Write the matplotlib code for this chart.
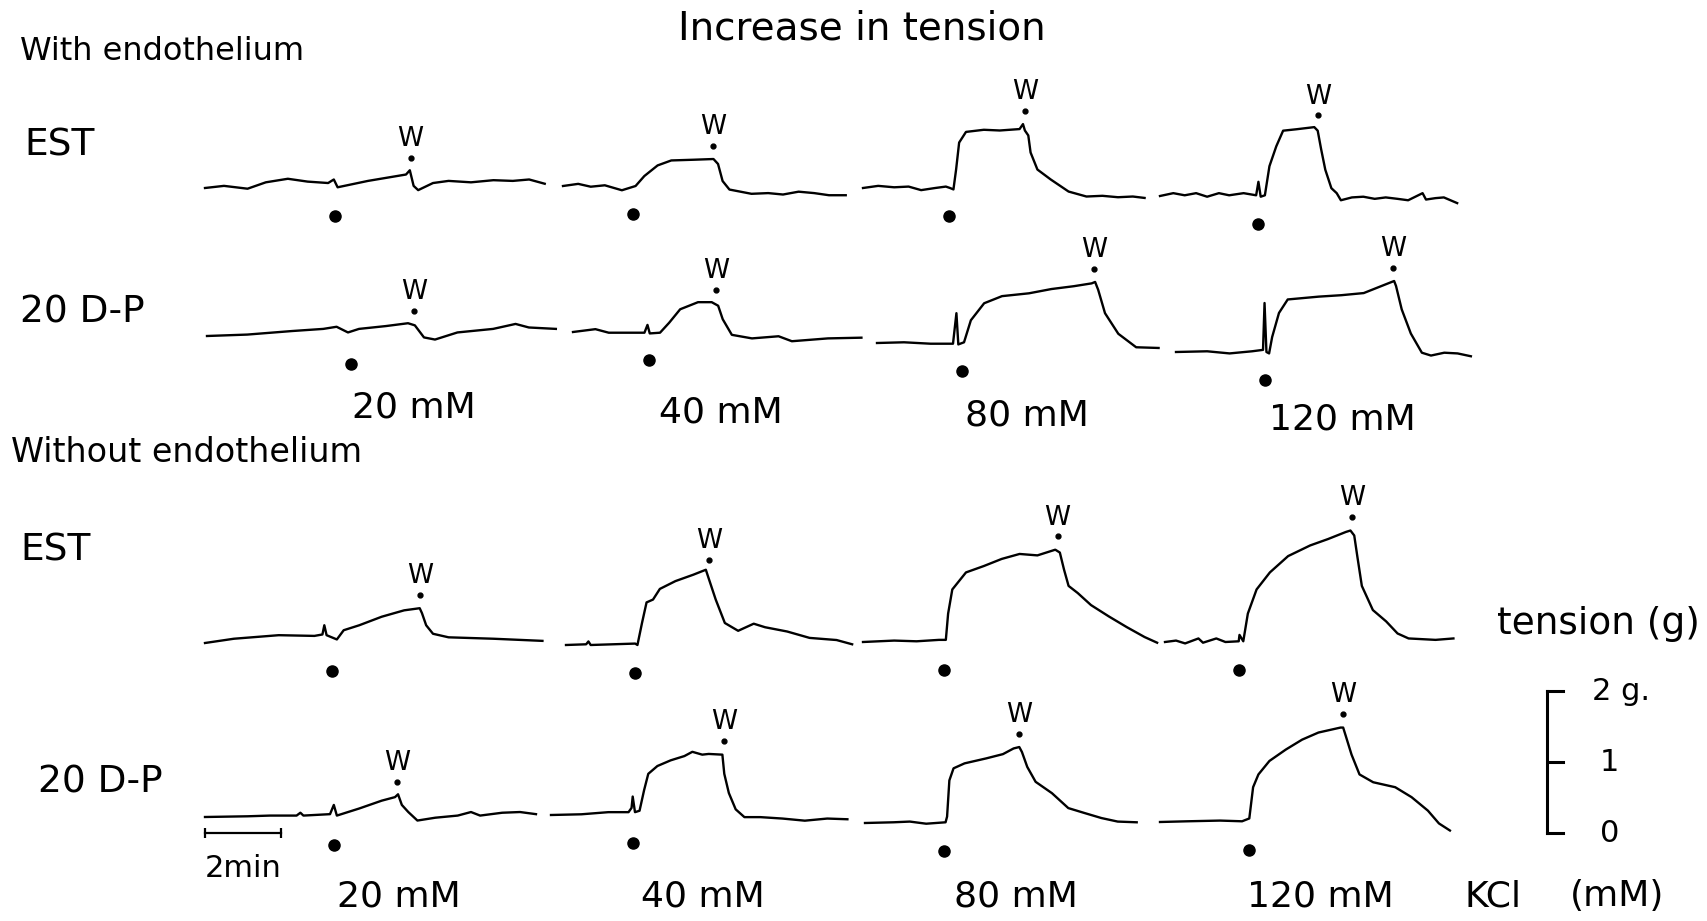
import numpy as np
import matplotlib.pyplot as plt

plt.rcParams['font.family'] = ['DejaVu Sans']

# KCl concentrations of the four records in each row
conc_labels = ['20 mM', '40 mM', '80 mM', '120 mM']

# each record: time from start of trace (min), tension above resting level (g)
# --- with endothelium, EST
e_est_20_t = [0, 0.5, 1.12, 1.6, 2.18, 2.7, 3.24, 3.39, 3.49, 4.29, 5.29, 5.39, 5.49, 5.61, 6.0, 6.41, 7.0,
              7.59, 8.1, 8.53, 8.94]
e_est_20_g = [0, 0.03, -0.01, 0.08, 0.13, 0.09, 0.07, 0.12, 0.01, 0.1, 0.19, 0.25, 0.03, -0.03, 0.07, 0.1,
              0.08, 0.11, 0.1, 0.12, 0.06]
e_est_40_t = [0, 0.4, 0.73, 1.1, 1.55, 1.91, 2.14, 2.49, 2.85, 3.44, 3.96, 4.08, 4.2, 4.38, 4.96, 5.4, 5.79,
              6.2, 6.61, 7.0, 7.44]
e_est_40_g = [0, 0.03, -0.01, 0.01, -0.06, 0, 0.14, 0.29, 0.36, 0.37, 0.38, 0.31, 0.07, -0.05, -0.11, -0.1,
              -0.12, -0.08, -0.1, -0.13, -0.13]
e_est_80_t = [0, 0.4, 0.82, 1.2, 1.53, 1.9, 2.18, 2.29, 2.38, 2.45, 2.53, 2.71, 3.18, 3.6, 4.12, 4.21, 4.26,
              4.35, 4.41, 4.59, 4.94, 5.41, 5.88, 6.3, 6.71, 7.1, 7.41]
e_est_80_g = [0, 0.03, 0.01, 0.02, -0.03, 0.0, 0.02, 0, -0.02, 0.26, 0.64, 0.79, 0.82, 0.81, 0.83, 0.9, 0.81,
              0.74, 0.5, 0.26, 0.12, -0.05, -0.12, -0.11, -0.13, -0.12, -0.14]
e_est_120_t = [0, 0.35, 0.65, 0.95, 1.24, 1.55, 1.82, 2.2, 2.53, 2.59, 2.65, 2.76, 2.88, 3.06, 3.24, 3.59,
               4.06, 4.15, 4.24, 4.35, 4.51, 4.65, 4.76, 5.05, 5.35, 5.65, 5.94, 6.25, 6.53, 6.91, 7.0,
               7.25, 7.47, 7.82]
e_est_120_g = [0, 0.04, 0.01, 0.04, -0.01, 0.04, 0.01, 0.04, 0.01, 0.2, -0.01, 0.01, 0.42, 0.7, 0.92, 0.94,
               0.97, 0.92, 0.66, 0.37, 0.11, 0.04, -0.06, -0.02, -0.01, -0.04, -0.02, -0.04, -0.06, 0.04,
               -0.05, -0.03, -0.02, -0.1]
e_est_add = [3.41, 1.85, 2.26, 2.59]
e_est_wash = [5.41, 3.94, 4.26, 4.15]

# --- with endothelium, 20 D-P
e_dp_20_t = [0, 1.06, 2.24, 3.06, 3.41, 3.71, 4.0, 4.71, 5.29, 5.47, 5.71, 6.0, 6.59, 7.53, 8.12, 8.47, 9.18]
e_dp_20_g = [0, 0.02, 0.07, 0.1, 0.13, 0.05, 0.1, 0.14, 0.18, 0.15, -0.02, -0.05, 0.05, 0.1, 0.17, 0.12, 0.1]
e_dp_40_t = [0, 0.59, 0.94, 1.88, 1.96, 2.02, 2.29, 2.53, 2.82, 3.29, 3.65, 3.82, 3.94, 4.18, 4.71, 5.41,
             5.76, 6.71, 7.59]
e_dp_40_g = [0, 0.04, -0.01, -0.01, 0.1, -0.02, -0.01, 0.13, 0.32, 0.42, 0.42, 0.37, 0.18, -0.04, -0.09, -0.06,
             -0.13, -0.09, -0.08]
e_dp_80_t = [0, 0.71, 1.41, 2.0, 2.09, 2.14, 2.29, 2.47, 2.82, 3.29, 4.0, 4.59, 5.18, 5.65, 5.74, 5.82,
             6.0, 6.35, 6.82, 7.41]
e_dp_80_g = [0, 0.01, -0.01, -0.01, 0.42, -0.02, 0.01, 0.32, 0.56, 0.66, 0.7, 0.76, 0.8, 0.84, 0.86, 0.75,
             0.42, 0.13, -0.06, -0.07]
e_dp_120_t = [0, 0.82, 1.41, 2.0, 2.29, 2.33, 2.38, 2.45, 2.53, 2.71, 2.94, 3.76, 4.35, 4.94, 5.41, 5.74,
              5.79, 5.94, 6.18, 6.47, 6.71, 7.06, 7.41, 7.76]
e_dp_120_g = [0, 0.01, -0.02, 0.01, 0.03, 0.69, 0, -0.02, 0.21, 0.55, 0.74, 0.78, 0.8, 0.83, 0.93, 1.0,
              0.93, 0.6, 0.26, -0.01, -0.05, -0.01, -0.02, -0.06]
e_dp_add = [3.8, 2.0, 2.24, 2.35]
e_dp_wash = [5.44, 3.76, 5.71, 5.71]

# --- without endothelium, EST
n_est_20_t = [0, 0.76, 1.94, 2.88, 3.09, 3.14, 3.2, 3.47, 3.65, 4.06, 4.65, 5.24, 5.65, 5.71, 5.82, 6.0,
              6.41, 7.59, 8.88]
n_est_20_g = [0, 0.06, 0.11, 0.1, 0.12, 0.25, 0.11, 0.05, 0.18, 0.25, 0.37, 0.46, 0.49, 0.42, 0.25, 0.13,
              0.08, 0.06, 0.03]
n_est_40_t = [0, 0.53, 0.59, 0.65, 1.82, 1.88, 2.0, 2.12, 2.29, 2.47, 2.88, 3.35, 3.68, 3.76, 3.94, 4.18,
              4.53, 4.94, 5.24, 5.82, 6.41, 7.12, 7.53]
n_est_40_g = [0, 0.01, 0.05, 0, 0.02, 0, 0.31, 0.6, 0.64, 0.79, 0.9, 0.99, 1.06, 0.93, 0.64, 0.31,
              0.2, 0.3, 0.25, 0.19, 0.1, 0.07, 0.01]
n_est_80_t = [0, 0.82, 1.41, 2.0, 2.18, 2.24, 2.35, 2.71, 3.18, 3.65, 4.12, 4.59, 5.06, 5.18, 5.29, 5.41,
              5.65, 6.0, 6.47, 6.94, 7.41, 7.74]
n_est_80_g = [0, 0.02, 0.01, 0.03, 0.03, 0.4, 0.74, 0.98, 1.07, 1.17, 1.24, 1.22, 1.3, 1.26, 1.02, 0.79,
              0.69, 0.52, 0.36, 0.21, 0.07, -0.01]
n_est_120_t = [0, 0.29, 0.53, 0.88, 1.0, 1.35, 1.59, 1.94, 1.96, 2.06, 2.18, 2.41, 2.76, 3.24, 3.82, 4.29,
               4.76, 4.88, 4.98, 5.06, 5.18, 5.47, 5.82, 6.12, 6.41, 7.12, 7.59]
n_est_120_g = [0, 0.02, -0.02, 0.05, -0.01, 0.05, 0, 0.01, 0.1, 0.01, 0.4, 0.74, 0.98, 1.21, 1.36, 1.45,
               1.55, 1.57, 1.5, 1.21, 0.79, 0.45, 0.29, 0.12, 0.05, 0.03, 0.05]
n_est_add = [3.35, 1.82, 2.12, 1.94]
n_est_wash = [5.67, 3.76, 5.12, 4.92]

# --- without endothelium, 20 D-P
n_dp_20_t = [0, 1.12, 1.71, 2.41, 2.51, 2.59, 3.29, 3.39, 3.47, 4.06, 4.65, 5.0, 5.08, 5.18, 5.35, 5.59,
             6.06, 6.65, 7.0, 7.24, 7.82, 8.29, 8.71]
n_dp_20_g = [0, 0.01, 0.02, 0.02, 0.06, 0.02, 0.04, 0.17, 0.02, 0.12, 0.23, 0.28, 0.32, 0.17, 0.07, -0.05,
             -0.01, 0.02, 0.07, 0.02, 0.06, 0.07, 0.04]
n_dp_40_t = [0, 0.8, 1.51, 2.04, 2.12, 2.15, 2.21, 2.33, 2.45, 2.56, 2.8, 3.15, 3.51, 3.72, 3.98, 4.15,
             4.51, 4.56, 4.68, 4.86, 5.09, 5.51, 6.09, 6.68, 7.27, 7.8]
n_dp_40_g = [0, 0.01, 0.04, 0.04, 0.1, 0.26, 0.04, 0.06, 0.35, 0.58, 0.69, 0.77, 0.83, 0.89, 0.85, 0.86,
             0.85, 0.58, 0.31, 0.08, -0.03, -0.03, -0.05, -0.08, -0.05, -0.06]
n_dp_80_t = [0, 0.75, 1.18, 1.61, 2.12, 2.16, 2.22, 2.33, 2.62, 3.19, 3.63, 3.91, 4.06, 4.13, 4.27, 4.49,
             4.92, 5.35, 5.78, 6.22, 6.65, 7.15]
n_dp_80_g = [0, 0.01, 0.02, -0.01, 0.01, 0.09, 0.6, 0.77, 0.84, 0.91, 0.97, 1.05, 1.07, 1.0, 0.79, 0.58,
             0.42, 0.21, 0.14, 0.07, 0.02, 0.01]
n_dp_120_t = [0, 0.72, 1.58, 2.16, 2.35, 2.45, 2.59, 2.88, 3.31, 3.74, 4.17, 4.75, 4.82, 4.89, 5.04, 5.25,
              5.61, 6.19, 6.62, 7.05, 7.34, 7.63]
n_dp_120_g = [0, 0.01, 0.02, 0.01, 0.05, 0.49, 0.67, 0.86, 1.02, 1.16, 1.26, 1.33, 1.33, 1.21, 0.95, 0.67,
              0.56, 0.49, 0.35, 0.16, -0.02, -0.12]
n_dp_add = [3.39, 2.15, 2.07, 2.35]
n_dp_wash = [5.06, 4.56, 4.06, 4.82]

scale_ticks_g = [0, 1, 2]
time_bar_min = 2

# ---- page layout (pixels of the 1708x921 page)
W, H = 1708, 921
PX_MIN = 38.0     # pixels per minute
PX_G = 71.0       # pixels per gram
G_LO, G_HI = -0.7, 2.2

rows = [
    ([e_est_20_t, e_est_40_t, e_est_80_t, e_est_120_t], [e_est_20_g, e_est_40_g, e_est_80_g, e_est_120_g],
     e_est_add, e_est_wash),
    ([e_dp_20_t, e_dp_40_t, e_dp_80_t, e_dp_120_t], [e_dp_20_g, e_dp_40_g, e_dp_80_g, e_dp_120_g],
     e_dp_add, e_dp_wash),
    ([n_est_20_t, n_est_40_t, n_est_80_t, n_est_120_t], [n_est_20_g, n_est_40_g, n_est_80_g, n_est_120_g],
     n_est_add, n_est_wash),
    ([n_dp_20_t, n_dp_40_t, n_dp_80_t, n_dp_120_t], [n_dp_20_g, n_dp_40_g, n_dp_80_g, n_dp_120_g],
     n_dp_add, n_dp_wash),
]
# where each trace starts (x) and where its resting level sits (y)
trace_x0 = [[205, 563, 863, 1160], [207, 573, 877, 1176], [205, 566, 863, 1165], [205, 551, 865, 1160]]
trace_y0 = [[188, 186, 188, 196], [336, 332, 343, 352], [643, 645, 642, 642], [817, 815, 823, 822]]

fig = plt.figure(figsize=(W / 100, H / 100), dpi=100)
page = fig.add_axes([0, 0, 1, 1])
page.set_xlim(0, W)
page.set_ylim(H, 0)
page.axis('off')


def record_axes(x0, y0, width_units, per_unit):
    ax = fig.add_axes([x0 / W, (H - y0 + G_LO * PX_G) / H,
                       width_units * per_unit / W, (G_HI - G_LO) * PX_G / H])
    ax.set_xlim(0, width_units)
    ax.set_ylim(G_LO, G_HI)
    ax.axis('off')
    return ax


first_ax = None
for r, (ts, gs, adds, washes) in enumerate(rows):
    for k in range(4):
        t, g = ts[k], gs[k]
        ax = record_axes(trace_x0[r][k], trace_y0[r][k], t[-1], PX_MIN)
        if r == 3 and k == 0:
            first_ax = ax
        ax.plot(t, g, color='black', lw=1.7, solid_joinstyle='round', clip_on=False)
        # KCl added
        ax.plot(adds[k], -0.4, 'o', color='black', ms=8, clip_on=False)
        # washout
        gw = max(np.interp(washes[k] + d, t, g) for d in (-0.05, 0, 0.05))
        ax.plot(washes[k], gw + 0.19, 'o', color='black', ms=3.5, clip_on=False)
        ax.text(washes[k], gw + 0.27, 'W', ha='center', va='bottom', fontsize=19, clip_on=False)

# 2 min time bar under the first bottom record
first_ax.plot([0, time_bar_min], [-0.22, -0.22], color='black', lw=1.6, clip_on=False)
first_ax.plot([0, time_bar_min], [-0.22, -0.22], '|', color='black', ms=7, mew=1.6, clip_on=False)

# tension calibration bar
sb = record_axes(1547, 833, 20, 1.0)
sb.plot([0, 0], [scale_ticks_g[0], scale_ticks_g[-1]], color='black', lw=2.2, clip_on=False)
for v in scale_ticks_g:
    sb.plot([3 if 0 < v < scale_ticks_g[-1] else 0, 16], [v, v], color='black', lw=2.2, clip_on=False)
sb.text(45, scale_ticks_g[-1], '2 g.', fontsize=22, va='center', clip_on=False)
sb.text(53, scale_ticks_g[1], '1', fontsize=22, va='center', clip_on=False)
sb.text(53, scale_ticks_g[0], '0', fontsize=22, va='center', clip_on=False)

# text
page.text(862, 29, 'Increase in tension', ha='center', va='center', fontsize=28)
page.text(20, 51, 'With endothelium', ha='left', va='center', fontsize=23)
page.text(24, 145, 'EST', ha='left', va='center', fontsize=27)
page.text(20, 312, '20 D-P', ha='left', va='center', fontsize=27)
page.text(11, 452, 'Without endothelium', ha='left', va='center', fontsize=24)
page.text(20, 550, 'EST', ha='left', va='center', fontsize=27)
page.text(38, 782, '20 D-P', ha='left', va='center', fontsize=27)

for lab, x, y in zip(conc_labels, [414, 721, 1027, 1342], [407, 412, 415, 419]):
    page.text(x, y, lab, ha='center', va='center', fontsize=26)
for lab, x in zip(conc_labels, [399, 703, 1016, 1320]):
    page.text(x, 896, lab, ha='center', va='center', fontsize=26)

page.text(1465, 896, 'KCl', ha='left', va='center', fontsize=26)
page.text(1570, 896, '(mM)', ha='left', va='center', fontsize=26)
page.text(1497, 624, 'tension (g)', ha='left', va='center', fontsize=27)
page.text(205, 868, '2min', ha='left', va='center', fontsize=22)

fig.savefig('out.png', dpi=100, facecolor='white')
